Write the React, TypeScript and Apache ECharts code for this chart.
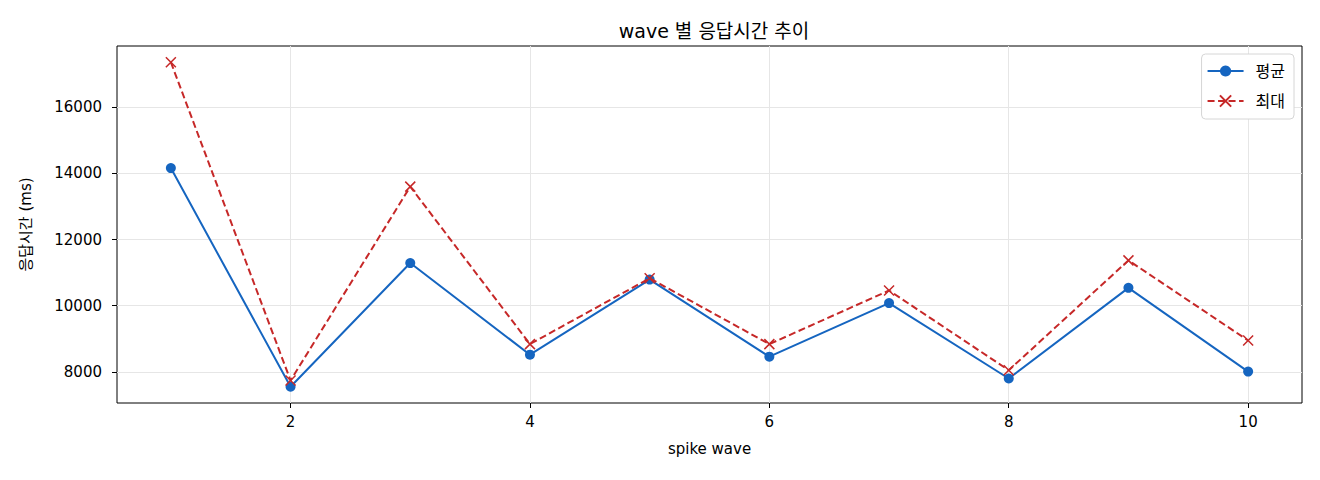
// WaveLatencyChart.tsx
import React, { useEffect, useRef } from "react";
import * as echarts from "echarts";

const waves = [1, 2, 3, 4, 5, 6, 7, 8, 9, 10];
const avgMs = [14160, 7550, 11290, 8520, 10790, 8460, 10080, 7800, 10540, 8010];
const maxMs = [17360, 7740, 13600, 8840, 10830, 8840, 10460, 8050, 11370, 8950];
const xTicks = [2, 4, 6, 8, 10];
const yTicks = [8000, 10000, 12000, 14000, 16000];

// 라틴 문자는 DejaVu, 한글은 Noto CJK KR 로 fallback
const FONT = "'DejaVu Sans', 'Noto Sans CJK KR', sans-serif";
const BLUE = "#1565c0";
const RED = "#c62828";

export default function App() {
  const chartRef = useRef<HTMLDivElement>(null);

  useEffect(() => {
    document.body.style.margin = "0";
    if (!chartRef.current) return;

    const chart = echarts.init(chartRef.current, null, { renderer: "svg" });

    const gridLine = { show: true, lineStyle: { color: "#e6e6e6", width: 1 } };
    const tick = { show: true, length: 5, lineStyle: { color: "#000" } };

    chart.setOption({
      animation: false,
      textStyle: { fontFamily: FONT },
      title: {
        text: "wave 별 응답시간 추이",
        left: 709,
        top: 16,
        textAlign: "center",
        textStyle: { fontSize: 19, fontWeight: "normal", color: "#000", fontFamily: FONT },
      },
      legend: {
        orient: "vertical",
        right: 26,
        top: 54,
        itemWidth: 36,
        itemHeight: 14,
        itemGap: 14,
        padding: [9, 9, 10, 5],
        backgroundColor: "#fff",
        borderColor: "#d6d6d6",
        borderWidth: 1,
        borderRadius: 4,
        textStyle: { fontSize: 16, color: "#000", fontFamily: FONT, padding: [0, 0, 0, 7] },
        data: ["평균", "최대"],
      },
      grid: {
        left: 117,
        right: 18,
        top: 46,
        bottom: 77,
        show: true,
        borderColor: "#000",
        borderWidth: 1,
      },
      xAxis: {
        type: "value",
        min: 0.55,
        max: 10.45,
        name: "spike wave",
        nameLocation: "middle",
        nameGap: 38,
        nameTextStyle: { fontSize: 15, color: "#000", fontFamily: FONT },
        axisLine: { show: false },
        axisTick: { ...tick, customValues: xTicks },
        axisLabel: { fontSize: 15, color: "#000", margin: 11, customValues: xTicks },
        splitLine: gridLine,
      },
      yAxis: {
        type: "value",
        min: 7060,
        max: 17850,
        name: "응답시간 (ms)",
        nameLocation: "middle",
        nameGap: 84,
        nameTextStyle: { fontSize: 15, color: "#000", fontFamily: FONT },
        axisLine: { show: false },
        axisTick: { ...tick, customValues: yTicks },
        axisLabel: {
          fontSize: 15,
          color: "#000",
          margin: 15,
          customValues: yTicks,
          formatter: (v: number) => String(v),
        },
        splitLine: gridLine,
      },
      series: [
        {
          name: "평균",
          type: "line",
          data: waves.map((w, i) => [w, avgMs[i]]),
          symbol: "circle",
          symbolSize: 10,
          itemStyle: { color: BLUE },
          lineStyle: { color: BLUE, width: 2 },
          z: 3,
        },
        {
          name: "최대",
          type: "line",
          data: waves.map((w, i) => [w, maxMs[i]]),
          symbol: "path://M0,0L10,10M10,0L0,10",
          symbolSize: 10,
          itemStyle: { color: RED, borderColor: RED, borderWidth: 1.5 },
          lineStyle: { color: RED, width: 2, type: [7, 3.5] },
          z: 4,
        },
      ],
    });

    return () => {
      chart.dispose();
    };
  }, []);

  return <div ref={chartRef} style={{ width: "1320px", height: "480px" }} />;
}
